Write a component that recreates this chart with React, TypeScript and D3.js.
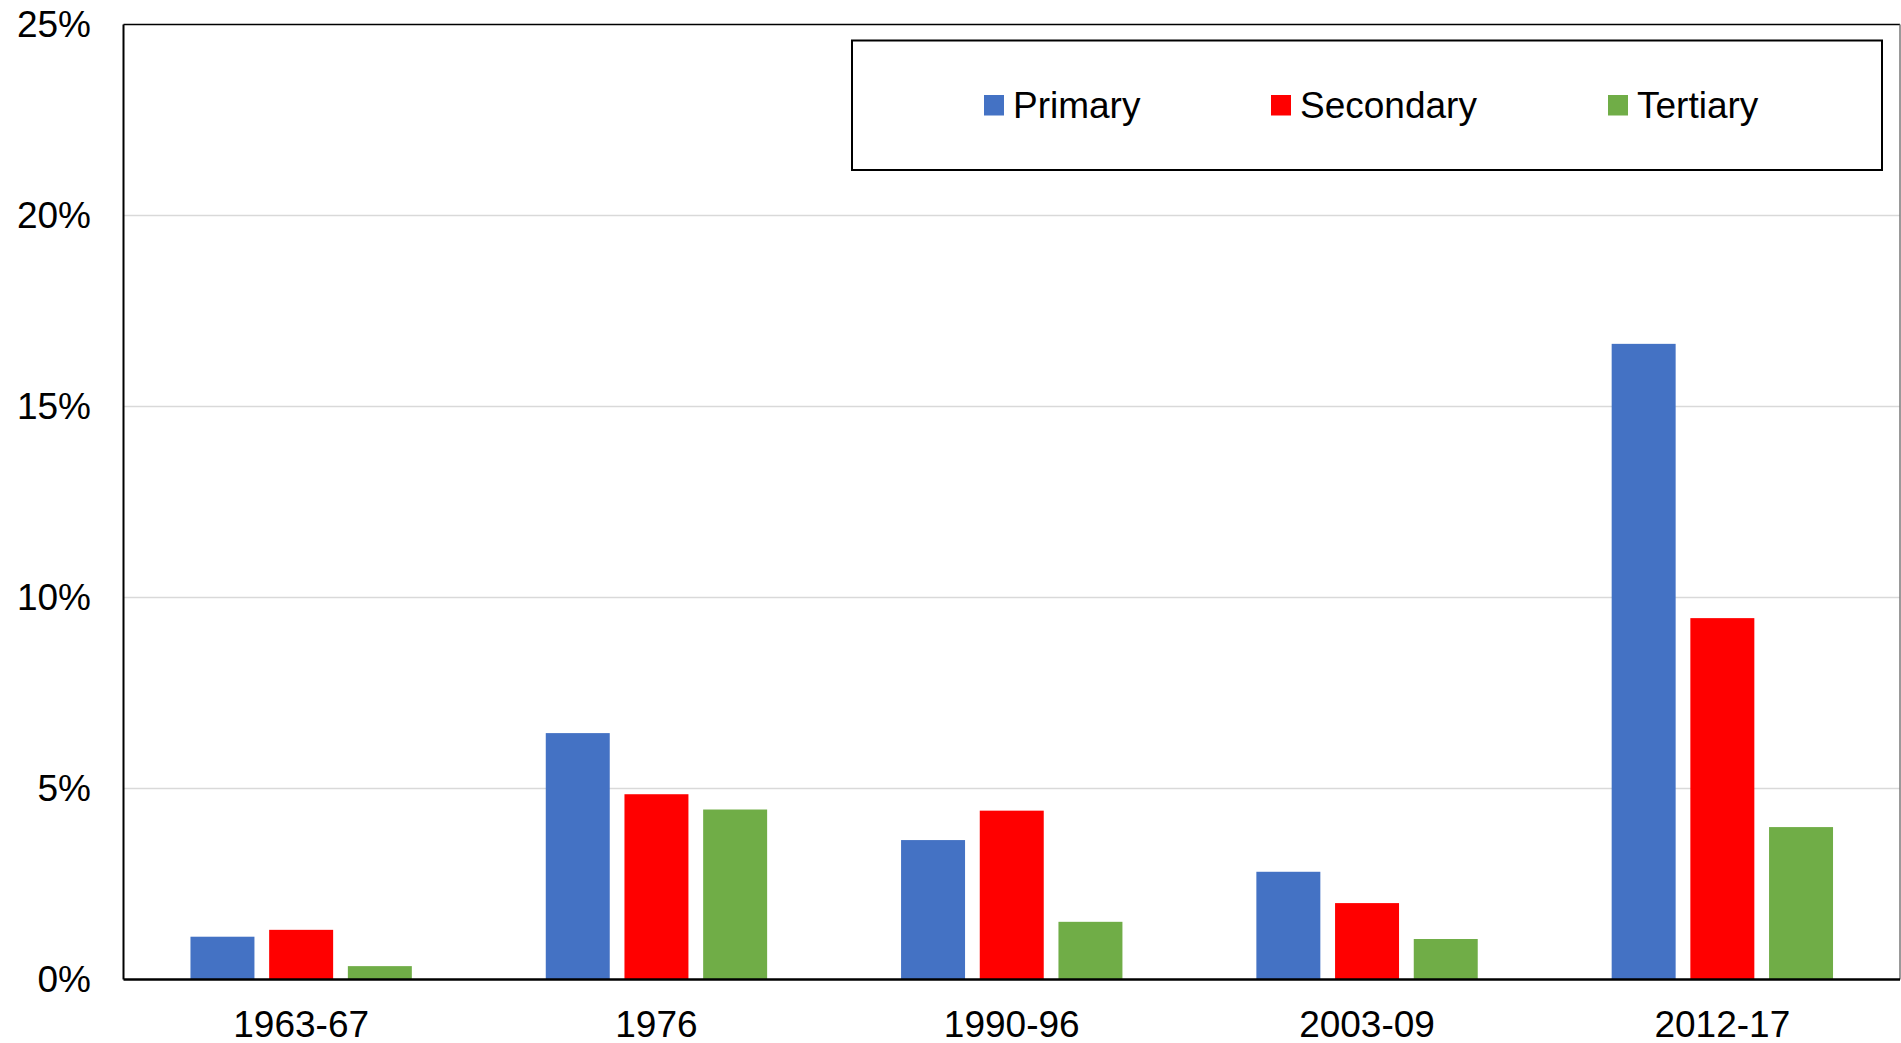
import React from "react";
import * as d3 from "d3";

const categories = ["1963-67", "1976", "1990-96", "2003-09", "2012-17"];
const seriesNames = ["Primary", "Secondary", "Tertiary"];
const primary = [1.12, 6.45, 3.65, 2.82, 16.64];
const secondary = [1.3, 4.85, 4.42, 2.0, 9.46];
const tertiary = [0.35, 4.45, 1.51, 1.06, 3.99];
const yTicks = [0, 5, 10, 15, 20, 25];
const colors = ["#4472C4", "#FF0000", "#70AD47"];

const W = 1901;
const H = 1043;
const left = 123.5;
const right = 1900;
const top = 24.5;
const bottom = 979.5;
const FONT = "Arial, 'Liberation Sans', sans-serif";

export default function App() {
  const values = [primary, secondary, tertiary];
  const x0 = d3.scaleBand<string>().domain(categories).range([left, right]).padding(0);
  const x1 = d3
    .scaleBand<string>()
    .domain(seriesNames)
    .range([0, x0.bandwidth()])
    .paddingInner(0.187)
    .paddingOuter(0.851);
  const y = d3.scaleLinear().domain([0, 25]).range([bottom, top]);

  const legendItems = [
    { name: "Primary", x: 984 },
    { name: "Secondary", x: 1271 },
    { name: "Tertiary", x: 1608 },
  ];

  return (
    <svg
      width={W}
      height={H}
      style={{ position: "absolute", left: 0, top: 0, display: "block", background: "#fff" }}
      fontFamily={FONT}
    >
      <rect x={0} y={0} width={W} height={H} fill="#fff" />
      {/* gridlines */}
      {yTicks.slice(1, -1).map((t) => (
        <line key={t} x1={left} x2={right} y1={y(t)} y2={y(t)} stroke="#d9d9d9" strokeWidth={1.5} />
      ))}
      {/* bars */}
      {categories.map((c, i) => (
        <g key={c}>
          {seriesNames.map((s, j) => (
            <rect
              key={s}
              x={(x0(c) ?? 0) + (x1(s) ?? 0)}
              y={y(values[j][i])}
              width={x1.bandwidth()}
              height={bottom - y(values[j][i])}
              fill={colors[j]}
            />
          ))}
        </g>
      ))}
      {/* plot border */}
      <line x1={left} x2={right} y1={top} y2={top} stroke="#000" strokeWidth={1.5} />
      <line x1={right} x2={right} y1={top} y2={bottom} stroke="#777" strokeWidth={1.5} />
      <line x1={left} x2={left} y1={top} y2={bottom} stroke="#000" strokeWidth={2} />
      <line x1={left} x2={right} y1={bottom} y2={bottom} stroke="#000" strokeWidth={2.5} />
      {/* y tick labels */}
      {yTicks.map((t) => (
        <text
          key={t}
          x={91}
          y={y(t)}
          textAnchor="end"
          dominantBaseline="central"
          fontSize={37}
          fill="#000"
        >
          {`${t}%`}
        </text>
      ))}
      {/* x labels */}
      {categories.map((c) => (
        <text
          key={c}
          x={(x0(c) ?? 0) + x0.bandwidth() / 2}
          y={1036.5}
          textAnchor="middle"
          fontSize={37}
          fill="#000"
        >
          {c}
        </text>
      ))}
      {/* legend */}
      <rect x={852} y={40.5} width={1030} height={129.5} fill="#fff" stroke="#000" strokeWidth={2} />
      {legendItems.map((it, i) => (
        <g key={it.name}>
          <rect x={it.x} y={95} width={20} height={20.5} fill={colors[i]} />
          <text x={it.x + 29} y={118} fontSize={37} fill="#000">
            {it.name}
          </text>
        </g>
      ))}
    </svg>
  );
}
